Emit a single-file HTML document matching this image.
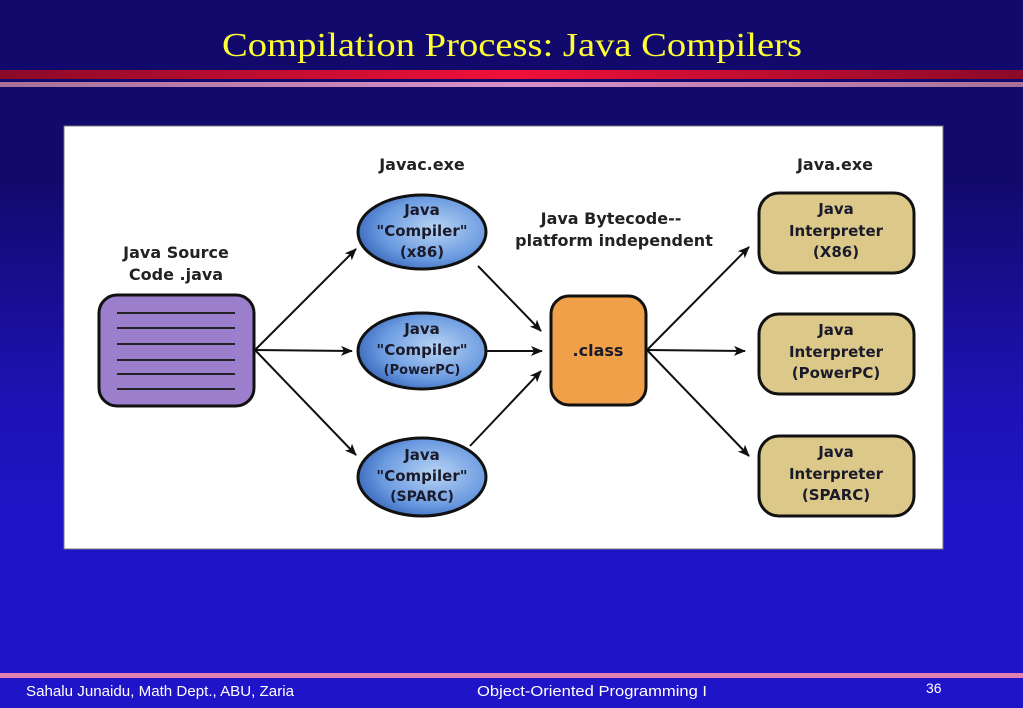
<!DOCTYPE html>
<html><head><meta charset="utf-8"><style>
html,body{margin:0;padding:0}
body{width:1023px;height:708px;overflow:hidden;background:linear-gradient(to bottom,#110a6c 0px,#110a6c 180px,#1e12b4 400px,#2014c8 520px,#2014c8 708px);position:relative;font-family:"Liberation Sans",sans-serif}
</style></head><body>
<svg width="1023" height="708" style="position:absolute;left:0;top:0">
<defs>
<linearGradient id="red" x1="0" x2="1"><stop offset="0" stop-color="#8a0a28"/><stop offset="0.5" stop-color="#f0103a"/><stop offset="1" stop-color="#8a0a28"/></linearGradient>
<linearGradient id="pink" x1="0" x2="1"><stop offset="0" stop-color="#a87098"/><stop offset="0.5" stop-color="#d890c8"/><stop offset="1" stop-color="#a87098"/></linearGradient>
<radialGradient id="ell" cx="0.6" cy="0.45" r="0.7"><stop offset="0" stop-color="#b8d4f4"/><stop offset="0.6" stop-color="#6a9ae0"/><stop offset="1" stop-color="#2a58b0"/></radialGradient>
<marker id="ar" markerWidth="12" markerHeight="10" refX="11" refY="5" orient="auto" markerUnits="userSpaceOnUse"><path d="M0,0 L12,5 L0,10 L3,5 z" fill="#111"/></marker>
</defs>
<text x="512" y="56" text-anchor="middle" font-family="Liberation Serif,serif" font-size="34" fill="#ffff33" textLength="580" lengthAdjust="spacingAndGlyphs">Compilation Process: Java Compilers</text>
<rect x="0" y="70" width="1023" height="9" fill="url(#red)"/>
<rect x="0" y="82" width="1023" height="5" fill="url(#pink)"/>
<rect x="64" y="126" width="879" height="423" fill="#fff" stroke="#777" stroke-width="1"/>
<g font-family="DejaVu Sans,sans-serif" font-weight="bold" fill="#222" text-anchor="middle">
<text x="422" y="170" font-size="16">Javac.exe</text>
<text x="835" y="170" font-size="16">Java.exe</text>
<text x="611" y="224" font-size="16">Java Bytecode--</text>
<text x="614" y="246" font-size="16">platform independent</text>
<text x="176" y="258" font-size="16">Java Source</text>
<text x="176" y="280" font-size="16">Code .java</text>
</g>
<g stroke="#111" stroke-width="2" fill="none" marker-end="url(#ar)">
<line x1="255" y1="350" x2="356" y2="249"/>
<line x1="255" y1="350" x2="352" y2="351"/>
<line x1="255" y1="350" x2="356" y2="455"/>
<line x1="478" y1="266" x2="541" y2="331"/>
<line x1="487" y1="351" x2="542" y2="351"/>
<line x1="470" y1="446" x2="541" y2="371"/>
<line x1="647" y1="350" x2="749" y2="247"/>
<line x1="647" y1="350" x2="745" y2="351"/>
<line x1="647" y1="350" x2="749" y2="456"/>
</g>
<rect x="99" y="295" width="155" height="111" rx="18" fill="#9b7fcc" stroke="#111" stroke-width="3"/>
<g stroke="#222" stroke-width="2"><line x1="117" y1="313" x2="235" y2="313"/><line x1="117" y1="328" x2="235" y2="328"/><line x1="117" y1="344" x2="235" y2="344"/><line x1="117" y1="360" x2="235" y2="360"/><line x1="117" y1="374" x2="235" y2="374"/><line x1="117" y1="389" x2="235" y2="389"/></g>
<g fill="url(#ell)" stroke="#111" stroke-width="3">
<ellipse cx="422" cy="232" rx="64" ry="37"/>
<ellipse cx="422" cy="351" rx="64" ry="38"/>
<ellipse cx="422" cy="477" rx="64" ry="39"/>
</g>
<rect x="551" y="296" width="95" height="109" rx="18" fill="#f0a048" stroke="#111" stroke-width="3"/>
<g fill="#dcc98a" stroke="#111" stroke-width="3">
<rect x="759" y="193" width="155" height="80" rx="20"/>
<rect x="759" y="314" width="155" height="80" rx="20"/>
<rect x="759" y="436" width="155" height="80" rx="20"/>
</g>
<g font-family="DejaVu Sans,sans-serif" font-weight="bold" fill="#1a1a2a" text-anchor="middle" font-size="15">
<text x="422" y="215">Java</text><text x="422" y="236">"Compiler"</text><text x="422" y="257">(x86)</text>
<text x="422" y="334">Java</text><text x="422" y="355">"Compiler"</text><text x="422" y="374" font-size="13">(PowerPC)</text>
<text x="422" y="460">Java</text><text x="422" y="481">"Compiler"</text><text x="422" y="501" font-size="14">(SPARC)</text>
<text x="598" y="356" font-size="16">.class</text>
<text x="836" y="214">Java</text><text x="836" y="236">Interpreter</text><text x="836" y="257">(X86)</text>
<text x="836" y="335">Java</text><text x="836" y="357">Interpreter</text><text x="836" y="378">(PowerPC)</text>
<text x="836" y="457">Java</text><text x="836" y="479">Interpreter</text><text x="836" y="500">(SPARC)</text>
</g>
<rect x="0" y="673" width="1023" height="5" fill="#e080b0"/>
<g fill="#fff" font-size="15" font-family="Liberation Sans,sans-serif">
<text x="26" y="696" textLength="268" lengthAdjust="spacingAndGlyphs">Sahalu Junaidu, Math Dept., ABU, Zaria</text>
<text x="477" y="696" textLength="230" lengthAdjust="spacingAndGlyphs">Object-Oriented Programming I</text>
<text x="926" y="693" font-size="14">36</text>
</g>
</svg>
</body></html>
